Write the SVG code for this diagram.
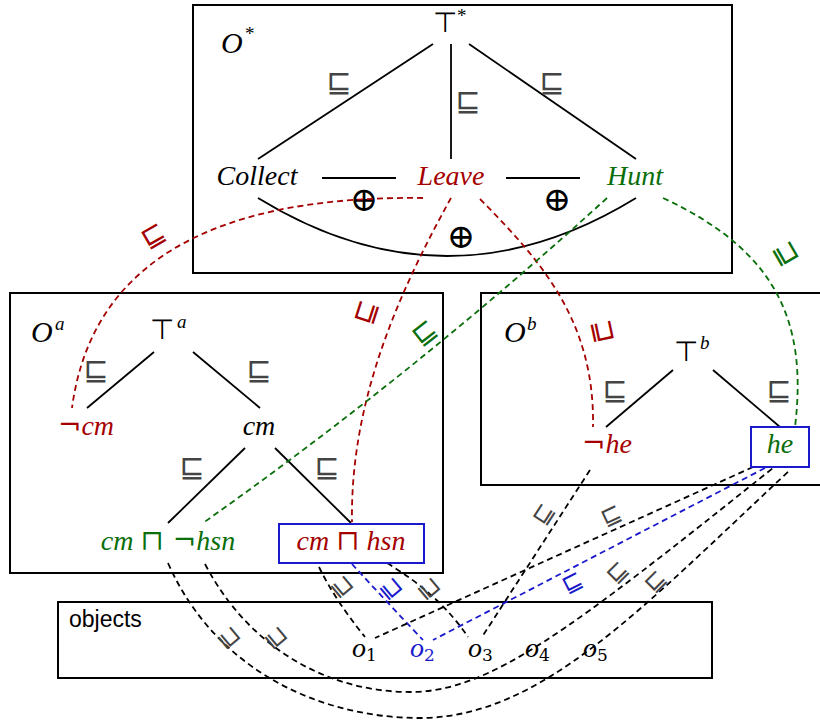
<svg xmlns="http://www.w3.org/2000/svg" width="820" height="720" viewBox="0 0 820 720">
<style>
.m{font-family:"Liberation Serif","DejaVu Serif",serif;font-style:italic;font-size:28px;text-anchor:middle}
.up{font-style:normal;font-family:"DejaVu Serif",serif}
.top{font-style:normal;font-family:"DejaVu Sans",sans-serif;font-size:28px;font-weight:300}
.sup{font-family:"Liberation Serif","DejaVu Serif",serif;font-style:italic;font-size:19px}
.lbl{font-family:"DejaVu Sans",sans-serif;font-size:30px;text-anchor:middle;dominant-baseline:central}
.sl{font-size:28px}
.sm{font-size:24px}
.box{fill:none;stroke:#000;stroke-width:2}
.sel{fill:#fff;stroke:#1a1acc;stroke-width:2}
.e{stroke:#000;stroke-width:1.8;fill:none}
.d{fill:none;stroke-width:1.8;stroke-dasharray:6 4}
.k{stroke:#000}.r{stroke:#a50000}.g{stroke:#0a6e0a}.b{stroke:#1a1acc}
.tr{fill:#a50000}.tg{fill:#0a6e0a}.tb{fill:#1a1acc}.tk{fill:#444}
</style>
<rect width="820" height="720" fill="#fff"/>
<g id="frames">
<rect class="box" x="193" y="5" width="539" height="268"/>
<rect class="box" x="10" y="293" width="433" height="280"/>
<rect class="box" x="481" y="293" width="345" height="192"/>
<rect class="box" x="58" y="602" width="654" height="76"/>
<text x="221" y="53" class="m" style="text-anchor:start;font-size:30px">O</text><text x="245" y="40" class="sup" style="font-style:normal">*</text>
<text x="31" y="342" class="m" style="text-anchor:start;font-size:30px">O</text><text x="55" y="330" class="sup">a</text>
<text x="504" y="342" class="m" style="text-anchor:start;font-size:30px">O</text><text x="527" y="330" class="sup">b</text>
<text x="69" y="627" style="font-family:'Liberation Sans',Arial,sans-serif;font-size:23px">objects</text>
</g>
<g id="tree-edges">
<line class="e" x1="433" y1="44" x2="258" y2="159"/>
<line class="e" x1="451" y1="44" x2="451" y2="159"/>
<line class="e" x1="469" y1="44" x2="636" y2="159"/>
<line class="e" x1="322" y1="178" x2="396" y2="178"/>
<line class="e" x1="506" y1="178" x2="580" y2="178"/>
<path class="e" d="M258,198 Q447,314 636,198"/>
<line class="e" x1="154" y1="352" x2="87" y2="408"/>
<line class="e" x1="193" y1="352" x2="260" y2="408"/>
<line class="e" x1="245" y1="448" x2="168" y2="523"/>
<line class="e" x1="275" y1="448" x2="351" y2="523"/>
<line class="e" x1="673" y1="370" x2="606" y2="427"/>
<line class="e" x1="713" y1="370" x2="780" y2="427"/>
<g class="lbl tk">
<text x="339" y="81">⊑</text><text x="468" y="100">⊑</text><text x="552" y="81">⊑</text>
<text x="96" y="369">⊑</text><text x="259" y="369">⊑</text>
<text x="192" y="466">⊑</text><text x="327" y="466">⊑</text>
<text x="615" y="389">⊑</text><text x="779" y="389">⊑</text>
</g>
<g class="m up" style="font-size:34px;font-weight:300">
<text x="364" y="211">⊕</text><text x="557" y="211">⊕</text><text x="461" y="248">⊕</text>
</g>
</g>
<g id="connectors">
<path class="d r" d="M423,198 C260,196 95,235 72,408"/>
<path class="d r" d="M451,198 C400,290 350,400 352,522"/>
<path class="d r" d="M480,199 C540,260 595,320 593,427"/>
<path class="d g" d="M607,198 Q415,373 203,523"/>
<path class="d g" d="M663,198 C775,250 808,320 795,427"/>
<path class="d k" d="M319,567 Q335,600 365,637"/>
<path class="d b" d="M352,564 Q385,600 423,640"/>
<path class="d k" d="M387,563 Q440,595 468,637"/>
<path class="d k" d="M590,470 L482,637"/>
<path class="d k" d="M753,467 L375,638"/>
<path class="d b" d="M765,468 L433,640"/>
<path class="d k" d="M168,563 C215,670 320,718 420,718 C540,718 640,610 790,470"/>
<path class="d k" d="M205,564 C250,650 330,692 410,692 C490,692 570,630 773,468"/>
<g class="lbl">
<text class="tr sl" transform="translate(153,235) rotate(-30)">⊑</text>
<text class="tr sl" transform="translate(365,312) rotate(-72)">⊑</text>
<text class="tr sl" transform="translate(604,331) rotate(78)">⊒</text>
<text class="tg sl" transform="translate(424,332) rotate(-38)">⊑</text>
<text class="tg sl" transform="translate(787,253) rotate(60)">⊒</text>
<text class="tk sm" transform="translate(343,586) rotate(50)">⊒</text>
<text class="tb sm" transform="translate(392,588) rotate(50)">⊒</text>
<text class="tk sm" transform="translate(430,588) rotate(50)">⊒</text>
<text class="tk sm" transform="translate(543,514) rotate(-57)">⊑</text>
<text class="tk sm" transform="translate(611,515) rotate(-25)">⊑</text>
<text class="tb sm" transform="translate(572,582) rotate(-27)">⊑</text>
<text class="tk sm" transform="translate(617,572) rotate(-45)">⊑</text>
<text class="tk sm" transform="translate(655,581) rotate(-45)">⊑</text>
<text class="tk sm" transform="translate(230,637) rotate(50)">⊒</text>
<text class="tk sm" transform="translate(277,637) rotate(50)">⊒</text>
</g>
</g>
<g id="top-star"><text x="445" y="32" class="m top">⊤</text><text x="457" y="22" class="sup" style="font-style:normal">*</text></g>
<g id="collect"><text x="257" y="185" class="m">Collect</text></g>
<g id="leave"><text x="451" y="185" class="m tr">Leave</text></g>
<g id="hunt"><text x="635" y="185" class="m tg">Hunt</text></g>
<g id="top-a"><text x="162" y="339" class="m top">⊤</text><text x="177" y="328" class="sup">a</text></g>
<g id="not-cm"><text x="86" y="435" class="m tr"><tspan class="up">¬</tspan>cm</text></g>
<g id="cm"><text x="259" y="435" class="m">cm</text></g>
<g id="cm-not-hsn"><text x="168" y="550" class="m tg">cm <tspan class="up" style="font-weight:300">⊓ ¬</tspan>hsn</text></g>
<g id="cm-hsn"><rect class="sel" x="279" y="524" width="145" height="39"/><text x="351" y="550" class="m tr">cm <tspan class="up" style="font-weight:300">⊓</tspan> hsn</text></g>
<g id="top-b"><text x="686" y="361" class="m top">⊤</text><text x="700" y="349" class="sup">b</text></g>
<g id="not-he"><text x="607" y="453" class="m tr"><tspan class="up">¬</tspan>he</text></g>
<g id="he"><rect class="sel" x="751" y="427" width="58" height="40"/><text x="780" y="453" class="m tg">he</text></g>
<g id="objects" class="m" style="text-anchor:start">
<text x="352" y="657">o<tspan class="up" style="font-size:17px" dy="4">1</tspan></text>
<text x="410" y="657" class="tb">o<tspan class="up" style="font-size:17px" dy="4">2</tspan></text>
<text x="468" y="657">o<tspan class="up" style="font-size:17px" dy="4">3</tspan></text>
<text x="525" y="657">o<tspan class="up" style="font-size:17px" dy="4">4</tspan></text>
<text x="583" y="657">o<tspan class="up" style="font-size:17px" dy="4">5</tspan></text>
</g>
</svg>
